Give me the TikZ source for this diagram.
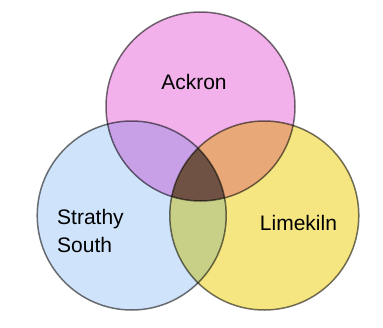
\documentclass[tikz,border=0pt]{standalone}
\usepackage{fontspec}
\setmainfont{Liberation Sans}
\definecolor{ackroncol}{HTML}{F2B1EA}
\definecolor{strathycol}{HTML}{CFE3FA}
\definecolor{limecol}{HTML}{F5E681}
\definecolor{ascol}{HTML}{C8A0E8}
\definecolor{alcol}{HTML}{E8A878}
\definecolor{slcol}{HTML}{C8D088}
\definecolor{allcol}{HTML}{6F5243}
\tikzset{
  rim/.style={draw=black, draw opacity=0.55, line width=1.5pt},
  site/.style={font=\fontsize{21}{28}\selectfont, inner sep=0pt}
}
\begin{document}
\begin{tikzpicture}[x=1pt,y=-1pt]
        \useasboundingbox (0,0) rectangle (383,327);
        % Circles
        \fill[ackroncol] (200.5,106.5) circle (94.5);
        \fill[strathycol] (131.7,215.5) circle (94.5);
        \fill[limecol] (264.3,215.5) circle (94.5);
        % Ackron and Strathy South
        \begin{scope}
            \clip (200.5,106.5) circle (94.5);
            \fill[ascol] (131.7,215.5) circle (94.5);
        \end{scope}
        % Ackron and Limekiln
        \begin{scope}
            \clip (200.5,106.5) circle (94.5);
            \fill[alcol] (264.3,215.5) circle (94.5);
        \end{scope}
        % Strathy South and Limekiln
        \begin{scope}
            \clip (131.7,215.5) circle (94.5);
            \fill[slcol] (264.3,215.5) circle (94.5);
        \end{scope}
        % All three
        \begin{scope}
            \clip (200.5,106.5) circle (94.5);
            \clip (131.7,215.5) circle (94.5);
            \fill[allcol] (264.3,215.5) circle (94.5);
        \end{scope}
        % Outlines
        \draw[rim] (200.5,106.5) circle (94.5);
        \draw[rim] (131.7,215.5) circle (94.5);
        \draw[rim] (264.3,215.5) circle (94.5);
        % Labels
        \node[site, anchor=base] (ackron) at (194,89) {Ackron};
        \node[site, anchor=west, align=left] (strathy) at (57,231) {Strathy\\South};
        \node[site, anchor=base] (limekiln) at (298.5,230) {Limekiln};
\end{tikzpicture}
\end{document}
